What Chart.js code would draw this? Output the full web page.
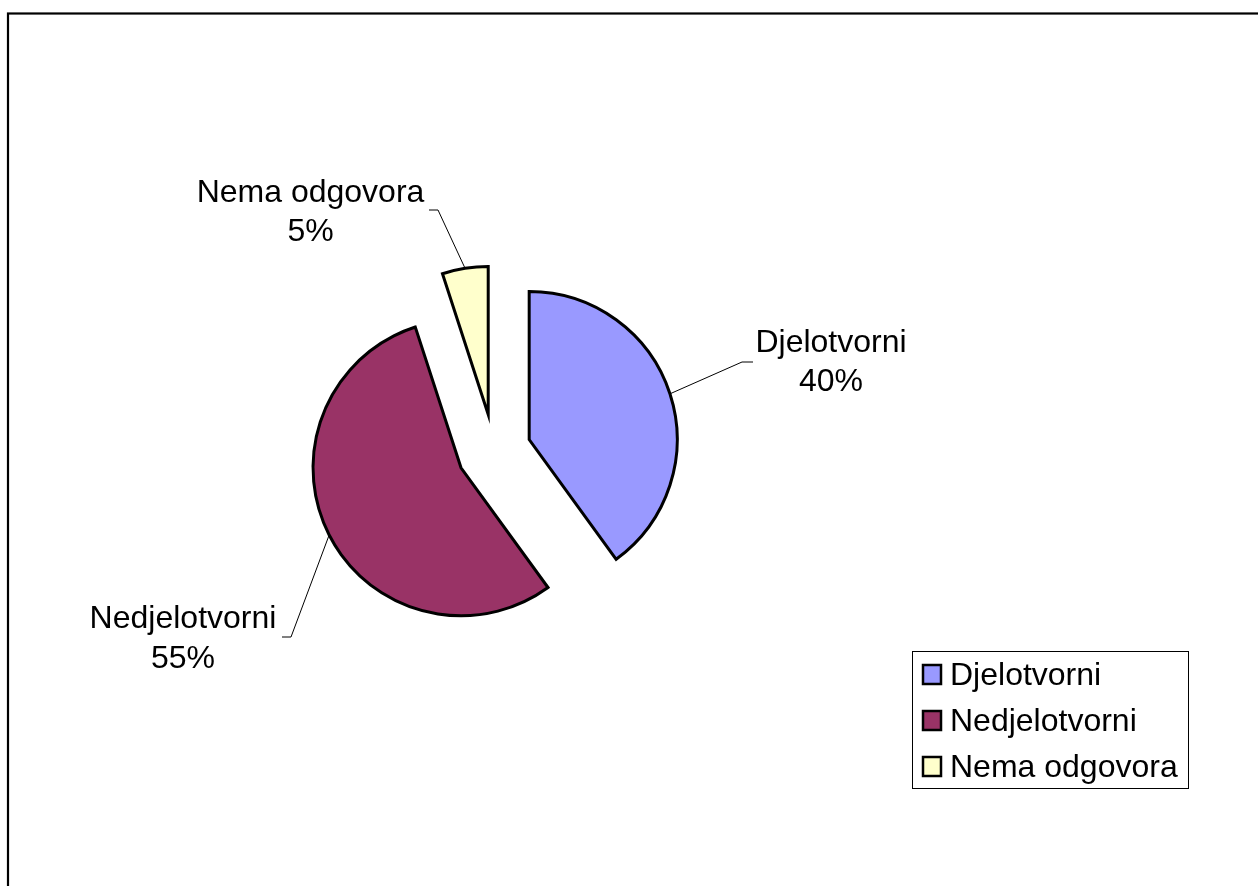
<!DOCTYPE html>
<html>
<head>
<meta charset="utf-8">
<script src="https://cdn.jsdelivr.net/npm/chart.js@4/dist/chart.umd.min.js"></script>
<style>
  html, body { margin: 0; padding: 0; background: #ffffff; }
  canvas { display: block; }
</style>
</head>
<body>
<canvas id="c" width="1258" height="886"></canvas>
<script>
// ---- data ----
const categories = ['Djelotvorni', 'Nedjelotvorni', 'Nema odgovora'];
const values = [40, 55, 5];
const percentLabels = ['40%', '55%', '5%'];
const sliceColors = ['#9999FF', '#993366', '#FFFFCC'];

// ---- style / layout constants ----
const FONT = '32px "Liberation Sans", Arial, sans-serif';
const EXPLODE = 37;
const RADIUS = 148;
// label layout: text centre x, first baseline, elbow of leader line, end of leader line
const labelLayout = [
  { x: 831, y: 351.7, elbow: [742, 362], end: [753, 362] },
  { x: 183, y: 628, elbow: [291, 637], end: [282, 637] },
  { x: 310.5, y: 201.7, elbow: [438, 210], end: [429, 210] }
];
const LINE_GAP = 39.5;

const explodePlugin = {
  id: 'explode',
  afterDatasetUpdate(chart, args) {
    const ca = chart.chartArea;
    const cx = (ca.left + ca.right) / 2;
    const cy = (ca.top + ca.bottom) / 2;
    args.meta.data.forEach(arc => {
      const mid = (arc.startAngle + arc.endAngle) / 2;
      arc.x = cx + Math.cos(mid) * EXPLODE;
      arc.y = cy + Math.sin(mid) * EXPLODE;
    });
  }
};

const decorPlugin = {
  id: 'decor',
  beforeDraw(chart) {
    const ctx = chart.ctx;
    ctx.save();
    ctx.fillStyle = '#ffffff';
    ctx.fillRect(0, 0, chart.width, chart.height);
    ctx.restore();
  },
  afterDraw(chart) {
    const ctx = chart.ctx;
    const meta = chart.getDatasetMeta(0);
    ctx.save();
    // outer frame
    ctx.strokeStyle = '#000000';
    ctx.lineWidth = 2.2;
    ctx.strokeRect(8, 13.5, chart.width + 20, chart.height + 20);

    // leader lines + labels
    ctx.font = FONT;
    ctx.textAlign = 'center';
    ctx.textBaseline = 'alphabetic';
    meta.data.forEach((arc, i) => {
      const mid = (arc.startAngle + arc.endAngle) / 2;
      const r = arc.outerRadius;
      const px = arc.x + Math.cos(mid) * r;
      const py = arc.y + Math.sin(mid) * r;
      const L = labelLayout[i];
      ctx.strokeStyle = '#000000';
      ctx.lineWidth = 1;
      ctx.beginPath();
      ctx.moveTo(px, py);
      ctx.lineTo(L.elbow[0], L.elbow[1]);
      ctx.lineTo(L.end[0], L.end[1]);
      ctx.stroke();
      ctx.fillStyle = '#000000';
      ctx.fillText(chart.data.labels[i], L.x, L.y);
      ctx.fillText(percentLabels[i], L.x, L.y + LINE_GAP);
    });

    // legend
    const lx = 912, ly = 651, lw = 276, lh = 137;
    ctx.lineWidth = 1;
    ctx.strokeStyle = '#000000';
    ctx.strokeRect(lx + 0.5, ly + 0.5, lw, lh);
    ctx.textAlign = 'left';
    const bases = [685, 731, 777];
    chart.data.labels.forEach((lab, i) => {
      const b = bases[i];
      ctx.fillStyle = chart.data.datasets[0].backgroundColor[i];
      ctx.fillRect(923, b - 20, 18, 19);
      ctx.lineWidth = 2.5;
      ctx.strokeStyle = '#000000';
      ctx.strokeRect(923, b - 20, 18, 19);
      ctx.fillStyle = '#000000';
      ctx.fillText(lab, 950, b);
    });
    ctx.restore();
  }
};

new Chart(document.getElementById('c'), {
  type: 'pie',
  data: {
    labels: categories,
    datasets: [{
      data: values,
      backgroundColor: sliceColors,
      borderColor: '#000000',
      borderWidth: 3,
      borderJoinStyle: 'miter',
      hoverOffset: 0
    }]
  },
  options: {
    responsive: false,
    animation: false,
    radius: RADIUS,
    layout: { padding: { left: 0, right: 270, top: 16, bottom: 0 } },
    plugins: {
      legend: { display: false },
      tooltip: { enabled: false },
      title: { display: false }
    },
    events: []
  },
  plugins: [explodePlugin, decorPlugin]
});
</script>
</body>
</html>
